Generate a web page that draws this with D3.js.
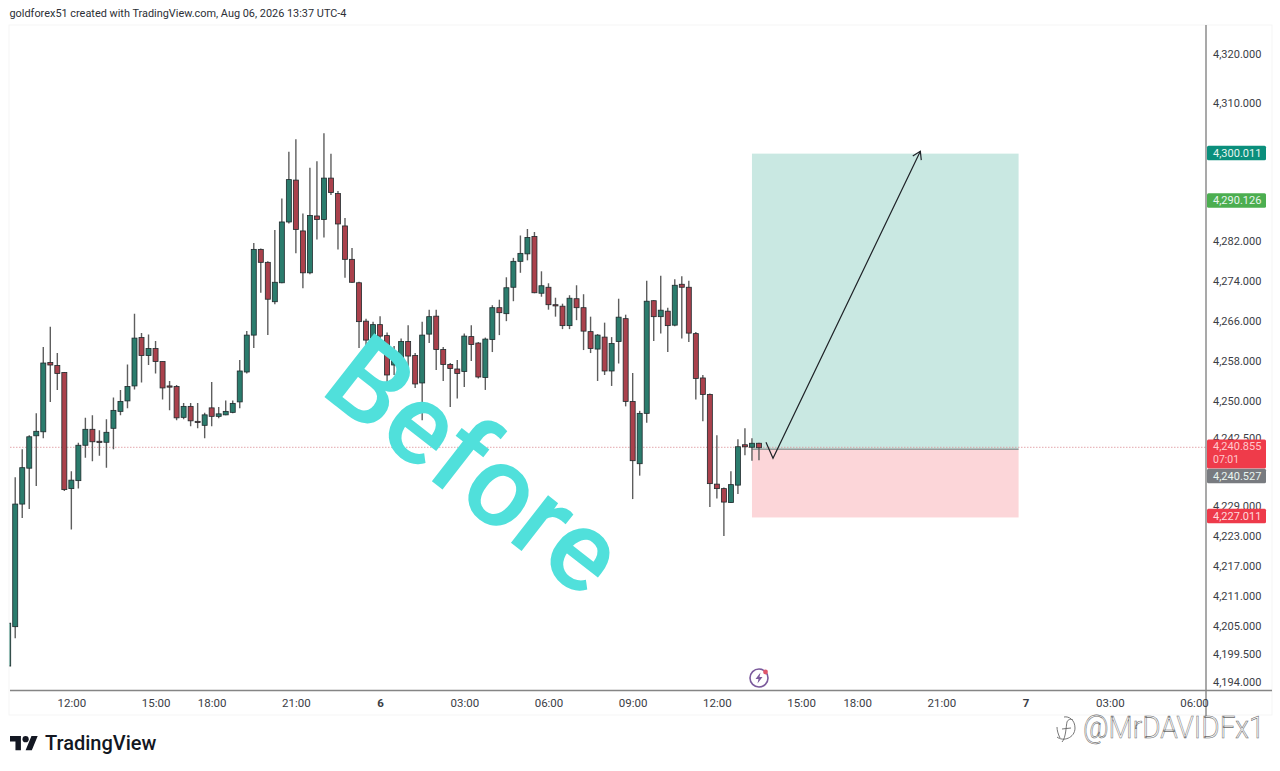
<!DOCTYPE html>
<html><head><meta charset="utf-8">
<script src="https://cdn.jsdelivr.net/npm/d3@7"></script>
<style>html,body{margin:0;padding:0;background:#fff}svg{display:block}text{font-family:Roboto,sans-serif}</style>
</head><body><svg id="c" width="1280" height="771"></svg>
<script>
const opens=[4197.2,4205.1,4229.7,4236.9,4243.4,4244.2,4258.1,4257.5,4256.1,4232.8,4234.4,4241.5,4244.7,4242.3,4242.1,4244.9,4248.3,4250.4,4253.4,4263.1,4259.5,4260.9,4258.3,4253.4,4253.3,4247.1,4249.3,4246.3,4245.5,4249.0,4247.3,4247.6,4248.1,4250.2,4256.2,4263.6,4280.8,4278.2,4270.3,4274.1,4286.3,4294.7,4284.5,4276.1,4287.5,4286.8,4295.1,4292.0,4285.5,4278.8,4274.1,4266.4,4263.0,4265.7,4263.5,4257.6,4259.0,4262.3,4259.5,4254.0,4263.8,4267.4,4260.7,4257.7,4256.8,4256.3,4263.3,4262.0,4255.1,4262.7,4269.1,4267.9,4273.2,4278.4,4279.9,4283.4,4272.0,4273.2,4269.7,4269.4,4265.5,4270.9,4269.1,4264.3,4260.8,4263.2,4256.4,4262.3,4266.9,4250.3,4237.8,4247.9,4270.5,4267.3,4268.4,4265.6,4273.8,4273.2,4263.9,4255.0,4251.7,4233.7,4232.8,4230.0,4233.5,4241.6,4241.1,4241.9];
const closes=[4205.8,4229.7,4237.0,4243.2,4244.3,4258.0,4257.6,4255.9,4232.6,4234.5,4241.5,4244.7,4242.2,4242.1,4244.1,4248.5,4250.3,4253.3,4263.0,4259.5,4260.9,4258.3,4253.0,4253.2,4247.0,4249.3,4246.4,4246.1,4247.6,4247.3,4247.8,4248.3,4249.9,4256.4,4263.6,4280.8,4278.2,4270.8,4274.2,4286.3,4294.8,4284.8,4276.1,4287.6,4286.8,4295.1,4292.2,4285.9,4278.8,4274.2,4266.3,4262.6,4265.7,4263.4,4255.6,4259.4,4262.3,4259.4,4253.8,4263.6,4267.3,4260.7,4257.7,4256.9,4255.9,4263.4,4261.7,4255.2,4262.8,4269.1,4268.1,4273.1,4278.4,4280.0,4283.2,4272.1,4273.5,4269.7,4269.5,4265.5,4271.0,4269.1,4264.4,4260.9,4263.6,4256.4,4261.9,4267.2,4250.3,4238.4,4247.9,4270.4,4267.3,4268.6,4265.5,4273.6,4273.2,4264.0,4254.9,4251.7,4233.8,4232.8,4230.1,4233.6,4241.2,4241.2,4241.9,4241.0];
const highs=[4206.0,4235.1,4240.7,4243.5,4247.9,4261.2,4265.3,4260.0,4256.2,4236.3,4242.0,4247.0,4247.5,4244.5,4246.7,4251.1,4252.6,4257.7,4267.9,4264.0,4263.7,4262.4,4258.3,4254.4,4253.6,4250.0,4250.0,4250.0,4248.0,4254.2,4249.2,4250.5,4250.5,4258.6,4264.4,4282.1,4281.0,4278.4,4284.7,4291.0,4300.4,4302.9,4288.0,4297.2,4298.5,4304.1,4300.0,4292.5,4287.1,4281.1,4274.3,4266.9,4266.3,4267.4,4264.1,4261.4,4262.9,4265.6,4260.0,4266.3,4268.7,4268.7,4261.2,4258.0,4258.6,4263.9,4265.6,4262.2,4263.1,4269.6,4270.7,4275.2,4279.1,4283.6,4284.9,4284.3,4276.4,4274.0,4271.1,4269.9,4271.6,4273.6,4271.8,4267.3,4263.8,4266.1,4263.2,4270.9,4267.7,4256.0,4248.4,4274.5,4270.6,4275.5,4269.1,4274.8,4275.4,4274.5,4264.2,4255.6,4251.9,4243.5,4233.0,4236.3,4242.7,4244.9,4242.9,4242.0];
const lows=[4197.2,4202.8,4226.9,4228.7,4233.3,4242.9,4250.2,4252.6,4232.3,4224.6,4232.8,4239.0,4238.3,4239.4,4237.0,4240.7,4247.5,4248.9,4252.7,4254.1,4257.6,4255.9,4250.7,4248.5,4246.5,4246.7,4245.3,4244.9,4242.9,4245.3,4246.9,4247.5,4247.9,4248.9,4255.9,4261.0,4272.1,4263.6,4269.8,4274.0,4286.0,4280.0,4273.0,4275.8,4282.8,4283.2,4291.7,4280.8,4275.1,4274.1,4261.0,4261.6,4262.2,4262.2,4254.2,4255.6,4257.6,4256.6,4253.0,4246.5,4262.0,4256.6,4254.4,4249.2,4250.9,4253.2,4258.4,4254.9,4252.6,4260.2,4263.6,4266.4,4270.4,4276.1,4278.6,4272.0,4271.3,4268.7,4267.3,4264.8,4264.8,4266.6,4260.6,4260.0,4254.4,4255.6,4253.4,4257.9,4249.3,4230.7,4235.4,4246.0,4262.4,4263.9,4260.2,4265.4,4262.9,4262.2,4250.7,4246.3,4229.1,4230.8,4223.3,4229.9,4231.7,4239.5,4238.4,4238.5];

const timeTickBars=[9,21,29,41,53,65,77,89,101,113,121,133,145,157,169];
const timeTickLabels=["12:00","15:00","18:00","21:00","6","03:00","06:00","09:00","12:00","15:00","18:00","21:00","7","03:00","06:00"];
const priceTicks=[4320,4310,4282,4274,4266,4258,4250,4242.5,4229,4223,4217,4211,4205,4199.5,4194];

const targetPrice=4300.011, entryPrice=4240.7, stopPrice=4227.011, lastPrice=4240.855;
const positionBars=[106,144];
const arrowBars=[108,109,130], arrowPrices=[4242.1,4238.9,4300.5];

const tagValues=[4300.011,4290.126,4240.527,4227.011];
const tagFills=["#0b8f7c","#4cae50","#787b80","#ee3a4a"];

const svg=d3.select("#c");
const x=d3.scaleLinear().domain([0,169]).range([8.2,1194]);
const y=d3.scaleLinear().domain([4320,4194]).range([54,682]);
/* the axis labels sit a touch higher than the price line, as in the picture */
const yAxisScale=d3.scaleLinear().domain([4320,4310,4300,4290,4282,4250,4242.5,4229,4205,4194]).range([54,103,153,201,241,401,438,506,626,682]);

const bars=opens.map((o,i)=>({i,o,c:closes[i],h:highs[i],l:lows[i]}));
const up=d=>d.c>=d.o;

svg.append("rect").attr("x",9).attr("y",25).attr("width",1263).attr("height",690).attr("fill","#fff").attr("stroke","#f5f5f5");
svg.append("defs").append("clipPath").attr("id","pl").append("rect").attr("x",9.5).attr("y",25).attr("width",1196).attr("height",665);

// position tool
svg.append("rect").attr("x",x(positionBars[0])).attr("width",x(positionBars[1])-x(positionBars[0]))
  .attr("y",y(targetPrice)).attr("height",y(entryPrice)-y(targetPrice)).attr("fill","#c9e8e2");
svg.append("rect").attr("x",x(positionBars[0])).attr("width",x(positionBars[1])-x(positionBars[0]))
  .attr("y",y(entryPrice)).attr("height",y(stopPrice)-y(entryPrice)).attr("fill","#fcd6d9");
svg.append("line").attr("x1",x(positionBars[0])).attr("x2",x(positionBars[1])).attr("y1",y(entryPrice)).attr("y2",y(entryPrice))
  .attr("stroke","#9a9a9a").attr("stroke-width",1.6);

// last price line
svg.append("line").attr("x1",10).attr("x2",1206).attr("y1",447.3).attr("y2",447.3)
  .attr("stroke","#dd9298").attr("stroke-width",.8).attr("stroke-dasharray","1.5 1.5");

// candles
const g=svg.append("g").attr("clip-path","url(#pl)");
g.selectAll(".w").data(bars).join("line").attr("class","w")
  .attr("x1",d=>x(d.i)).attr("x2",d=>x(d.i)).attr("y1",d=>y(d.h)).attr("y2",d=>y(d.l))
  .attr("stroke","#5e5e5e").attr("stroke-width",1.4);
g.selectAll(".b").data(bars).join("rect").attr("class","b")
  .attr("x",d=>x(d.i)-2.5).attr("width",5)
  .attr("y",d=>y(Math.max(d.o,d.c))).attr("height",d=>Math.max(1.2,Math.abs(y(d.o)-y(d.c))))
  .attr("fill",d=>up(d)?"#2b7c6d":"#aa414c").attr("stroke","#1e2a2c").attr("stroke-width",.8);

// arrow
const arrowPts=arrowBars.map((b,i)=>[x(b),y(arrowPrices[i])]);
svg.append("path").attr("d",d3.line()(arrowPts)).attr("fill","none").attr("stroke","#1f2328").attr("stroke-width",1.2);
const tip=arrowPts[2], prev=arrowPts[1], ang=Math.atan2(tip[1]-prev[1],tip[0]-prev[0]);
svg.append("path").attr("d",d3.line()([
  [tip[0]-9*Math.cos(ang-.55),tip[1]-9*Math.sin(ang-.55)],tip,
  [tip[0]-9*Math.cos(ang+.55),tip[1]-9*Math.sin(ang+.55)]]))
  .attr("fill","none").attr("stroke","#1f2328").attr("stroke-width",1.2);

// axis lines
svg.append("line").attr("x1",10).attr("x2",1272).attr("y1",690.5).attr("y2",690.5).attr("stroke","#858585").attr("stroke-width",1.4);
svg.append("line").attr("x1",1206).attr("x2",1206).attr("y1",25).attr("y2",716).attr("stroke","#858585").attr("stroke-width",1.4);

// axes
const ya=svg.append("g").attr("transform","translate(1206,0)")
  .call(d3.axisRight(yAxisScale).tickValues(priceTicks).tickSize(0).tickPadding(7).tickFormat(d3.format(",.3f")));
const xa=svg.append("g").attr("transform","translate(0,697.5)")
  .call(d3.axisBottom(x).tickValues(timeTickBars).tickSize(0).tickPadding(1).tickFormat((d,i)=>timeTickLabels[i]));
ya.select(".domain").remove(); xa.select(".domain").remove();
ya.selectAll("text").attr("font-size",11).attr("fill","#3a3d45").style("font-family","Roboto");
xa.selectAll("text").attr("font-size",11.5).attr("fill","#3a3d45").style("font-family","Roboto")
  .attr("font-weight",(d,i)=>/^\d$/.test(timeTickLabels[i])?700:400);

// price tags
const tagW=59;
function tag(yc,h,fill){svg.append("rect").attr("x",1207).attr("y",yc-h/2).attr("width",tagW).attr("height",h).attr("rx",1.5).attr("fill",fill);}
const fmt=d3.format(",.3f");
tag(454,29,"#ef3b4a");
svg.append("text").attr("x",1213).attr("y",450).attr("font-size",11).attr("fill","#ffc9cd").text(fmt(lastPrice));
svg.append("text").attr("x",1213).attr("y",463).attr("font-size",10.5).attr("fill","#ffc9cd").text("07:01");
tagValues.forEach((v,i)=>{
  const yy=v===4227.011?516:v===4240.527?476:yAxisScale(v);
  tag(yy,14.5,tagFills[i]);
  svg.append("text").attr("x",1213).attr("y",yy+4).attr("font-size",11).attr("fill",i===3?"#ffd9dc":"#e8f5ef").text(fmt(v));
});

// header
svg.append("text").attr("x",9.5).attr("y",17).attr("font-size",10.9).attr("fill","#2c2f36").text("goldforex51 created with TradingView.com, Aug 06, 2026 13:37 UTC-4");

// stylised "Before"
svg.append("text").attr("transform","translate(318,392) rotate(38)").attr("font-size",114).attr("font-weight",500).attr("fill","#50e0db").text("Before");

// lightning badge
const b=svg.append("g").attr("transform","translate(759,678)");
b.append("circle").attr("r",9).attr("fill","#fff").attr("stroke","#7b5a9c").attr("stroke-width",1.6);
b.append("path").attr("d","M1.5,-5.5L-3.5,1L-0.5,1L-1.5,5.5L3.5,-1L0.5,-1Z").attr("fill","#7b5a9c");
b.append("circle").attr("cx",6.5).attr("cy",-6).attr("r",2.4).attr("fill","#e0566b");

// logo
const lg=svg.append("g").attr("transform","translate(10,733) scale(.78)").attr("fill","#131722");
lg.append("path").attr("d","M14 22H7V11H0V4h14v18zM28 22h-8l7.5-18h8L28 22z");
lg.append("circle").attr("cx",20).attr("cy",8).attr("r",4);
svg.append("text").attr("x",45).attr("y",750).attr("font-size",20).attr("font-weight",500).attr("fill","#131722").text("TradingView");

// watermark
svg.append("text").attr("transform","translate(1083,738) scale(1,1.15)").attr("font-size",28).attr("font-weight",300)
  .attr("fill","#fff").attr("stroke","#6a6a6a").attr("stroke-width",.5).text("@MrDAVIDFx1");
const wm=svg.append("g").attr("fill","none").attr("stroke","#666").attr("stroke-width",.9);
wm.append("path").attr("d","M1057,737 C1063,742 1075,738 1075,728 C1075,720 1069,716 1064,717 M1060,738 C1058,734 1057,730 1057,727 M1062,742 C1066,738 1066,726 1067,722 C1068,719 1071,719 1073,720 M1062,729 L1071,728");
</script></body></html>
